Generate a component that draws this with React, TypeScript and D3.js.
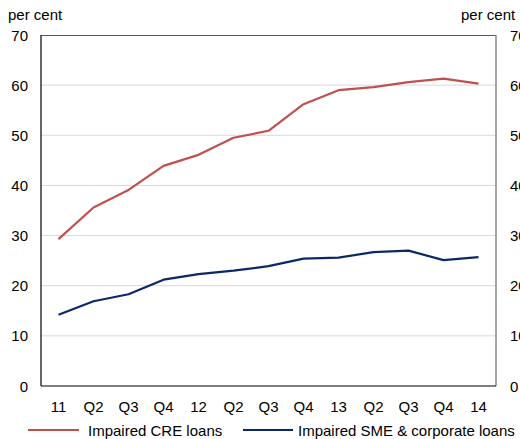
import React from "react";
import * as d3 from "d3";

const categories = ["11", "Q2", "Q3", "Q4", "12", "Q2", "Q3", "Q4", "13", "Q2", "Q3", "Q4", "14"];
const creValues = [29.3, 35.6, 39.1, 43.9, 46.1, 49.5, 50.9, 56.2, 59.0, 59.6, 60.6, 61.3, 60.3];
const smeValues = [14.2, 16.9, 18.3, 21.2, 22.3, 23.0, 23.9, 25.4, 25.6, 26.7, 27.0, 25.1, 25.7];
const yTicks = [0, 10, 20, 30, 40, 50, 60, 70];
const seriesNames = ["Impaired CRE loans", "Impaired SME & corporate loans"];

const W = 520;
const H = 439;
const left = 41;
const right = 496;
const top = 35;
const bottom = 386;
const FONT = "Liberation Sans, Arial, sans-serif";
const RED = "#C0504D";
const NAVY = "#0A2A66";

export default function App() {
  const x = d3
    .scalePoint<number>()
    .domain(categories.map((_, i) => i))
    .range([left, right])
    .padding(0.5);
  const y = d3.scaleLinear().domain([0, 70]).range([bottom, top]);
  const line = d3
    .line<number>()
    .x((_, i) => x(i) as number)
    .y((d) => y(d));

  return (
    <svg
      width={W}
      height={H}
      style={{ position: "absolute", left: 0, top: 0, background: "#fff" }}
      fontFamily={FONT}
    >
      {yTicks
        .filter((t) => t > 0 && t < 70)
        .map((t) => (
          <line key={"g" + t} x1={left} x2={right} y1={y(t)} y2={y(t)} stroke="#d9d9d9" strokeWidth={1} />
        ))}
      <line x1={left} x2={right} y1={top + 0.5} y2={top + 0.5} stroke="#555" strokeWidth={1} />
      <line x1={right} x2={right} y1={top} y2={bottom} stroke="#888" strokeWidth={1.5} />
      <line x1={left} x2={left} y1={top} y2={bottom} stroke="#000" strokeWidth={1.2} />
      <line x1={left} x2={right} y1={bottom} y2={bottom} stroke="#000" strokeWidth={1.2} />

      {yTicks.map((t) => (
        <g key={"t" + t} fontSize={15} fill="#000">
          <text x={28} y={y(t)} textAnchor="end" dominantBaseline="central">
            {t}
          </text>
          <text x={510} y={y(t)} textAnchor="start" dominantBaseline="central">
            {t}
          </text>
        </g>
      ))}
      <text x={8} y={20} fontSize={15}>per cent</text>
      <text x={461} y={20} fontSize={15}>per cent</text>

      {categories.map((c, i) => (
        <text key={"x" + i} x={x(i) as number} y={406} fontSize={15} textAnchor="middle" dominantBaseline="central">
          {c}
        </text>
      ))}

      <path d={line(creValues) || ""} fill="none" stroke={RED} strokeWidth={2.2} strokeLinejoin="round" />
      <path d={line(smeValues) || ""} fill="none" stroke={NAVY} strokeWidth={2.2} strokeLinejoin="round" />

      <line x1={28} x2={79} y1={430} y2={430} stroke={RED} strokeWidth={2.2} />
      <text x={88} y={430} fontSize={15} dominantBaseline="central">{seriesNames[0]}</text>
      <line x1={243} x2={293} y1={430} y2={430} stroke={NAVY} strokeWidth={2.2} />
      <text x={298} y={430} fontSize={15} dominantBaseline="central">{seriesNames[1]}</text>
    </svg>
  );
}
